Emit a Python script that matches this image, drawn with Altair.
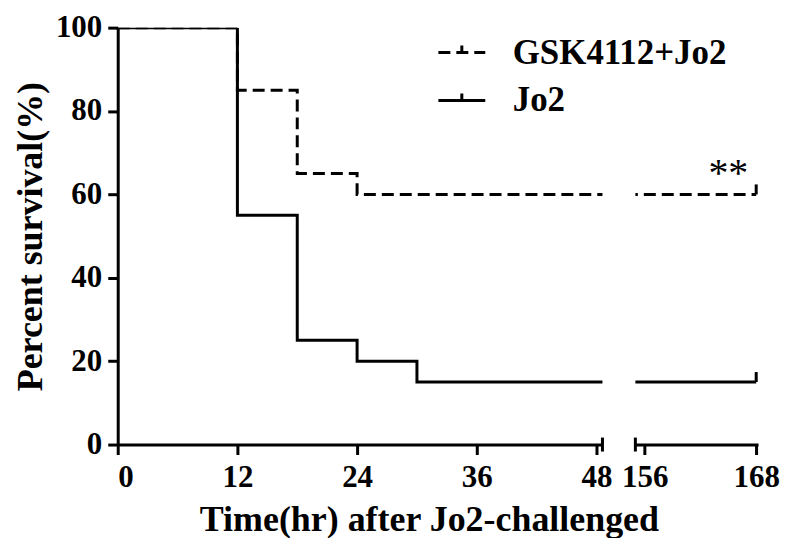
import altair as alt
import pandas as pd

# ---- data ----
groups = ["GSK4112+Jo2", "Jo2"]
gsk_time = [0, 12, 18, 24, 48, 168]
gsk_surv = [100, 85, 65, 60, 60, 60]
jo2_time = [0, 12, 18, 24, 30, 48, 168]
jo2_surv = [100, 55, 25, 20, 15, 15, 15]
censor_time = [168, 168]
censor_surv = [60, 15]
y_ticks = [0, 20, 40, 60, 80, 100]
left_ticks = [0, 12, 24, 36, 48]
right_ticks = [156, 168]
left_domain = [0, 48.6]
right_domain = [155, 168.2]
annot_x = [165]
annot_y = [62]
annot_text = ["**"]

FONT = "Liberation Serif"

curves = pd.concat([
    pd.DataFrame({"group": groups[0], "time": gsk_time, "surv": gsk_surv}),
    pd.DataFrame({"group": groups[1], "time": jo2_time, "surv": jo2_surv}),
], ignore_index=True)
censors = pd.DataFrame({"time": censor_time, "surv": censor_surv})
brk_left = pd.DataFrame({"time": [left_domain[1]], "surv": [0]})
brk_right = pd.DataFrame({"time": [right_domain[0]], "surv": [0]})
annot = pd.DataFrame({"time": annot_x, "surv": annot_y, "label": annot_text})

y_scale = alt.Scale(domain=[0, 100], nice=False, zero=False)
dash_scale = alt.Scale(domain=groups, range=[[12, 6], [1, 0]])


def panel(domain, ticks, left):
    xs = alt.Scale(domain=domain, nice=False, zero=False)
    if left:
        x_axis = alt.Axis(values=ticks, title="Time(hr) after Jo2-challenged",
                          titleX=312, titleY=86, titleBaseline="alphabetic",
                          titleAlign="center")
        y_axis = alt.Axis(values=y_ticks, title="Percent survival(%)",
                          titlePadding=6, labelPadding=6)
        legend = alt.Legend(title=None, orient="none", legendX=320, legendY=0)
    else:
        x_axis = alt.Axis(values=ticks, title=None)
        y_axis = None
        legend = None
    lines = alt.Chart(curves).mark_line(
        interpolate="step-after", clip=True, strokeWidth=3, color="black"
    ).encode(
        x=alt.X("time:Q", scale=xs, axis=x_axis),
        y=alt.Y("surv:Q", scale=y_scale, axis=y_axis),
        strokeDash=alt.StrokeDash("group:N", scale=dash_scale, legend=legend),
    )
    brk = alt.Chart(brk_left if left else brk_right).mark_point(
        shape="M0,-1L0,1", size=196, filled=False, strokeWidth=3, color="black", opacity=1
    ).encode(x=alt.X("time:Q", scale=xs), y=alt.Y("surv:Q", scale=y_scale))
    layers = [lines, brk]
    if not left:
        cens = alt.Chart(censors).mark_point(
            shape="M0,0L0,-1", size=400, filled=False, strokeWidth=3, color="black", opacity=1
        ).encode(x=alt.X("time:Q", scale=xs), y=alt.Y("surv:Q", scale=y_scale))
        txt = alt.Chart(annot).mark_text(
            font=FONT, fontSize=40, baseline="alphabetic", align="center", color="black"
        ).encode(x=alt.X("time:Q", scale=xs), y=alt.Y("surv:Q", scale=y_scale), text="label:N")
        layers += [cens, txt]
    w = 486 if left else 123
    return alt.layer(*layers).properties(width=w, height=418)


chart = alt.hconcat(
    panel(left_domain, left_ticks, True),
    panel(right_domain, right_ticks, False),
    spacing=33,
    bounds="flush",
).resolve_scale(
    x="independent", y="independent", strokeDash="independent"
).configure_axis(
    domainColor="black", domainWidth=3, tickColor="black", tickWidth=3, tickSize=10,
    labelFont=FONT, labelFontSize=31, labelFontWeight="bold", labelColor="black",
    labelPadding=8, titleFont=FONT, titleFontSize=36, titleFontWeight="bold",
    titleColor="black", grid=False,
).configure_legend(
    labelFont=FONT, labelFontSize=35, labelFontWeight="bold", labelColor="black",
    labelLimit=400,
    symbolType="M-1,0L1,0M0,0L0,-0.3", symbolSize=2209, symbolStrokeWidth=3,
    symbolStrokeColor="black", labelOffset=26, rowPadding=5,
).configure_view(stroke=None).properties(
    background="white",
    padding={"left": 4, "right": 0, "top": 3, "bottom": 0},
)

chart.save("out.html", embed_options={"renderer": "svg", "actions": False})
